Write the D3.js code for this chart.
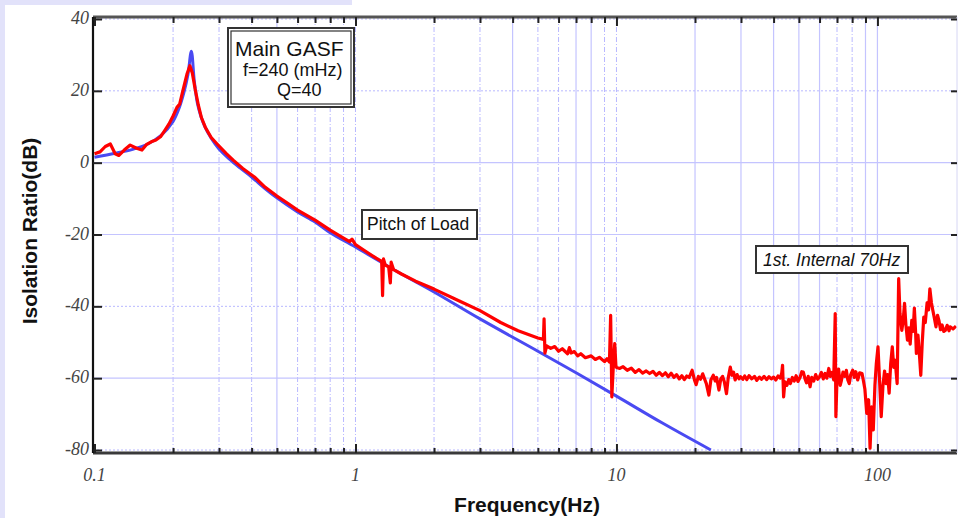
<!DOCTYPE html>
<html><head><meta charset="utf-8">
<script src="https://cdn.jsdelivr.net/npm/d3@7"></script>
<style>
html,body{margin:0;padding:0;background:#fff;}
svg{display:block;}
</style></head>
<body>
<svg id="chart" width="958" height="518"></svg>
<script>
// ---------- data ----------
const xTickValues = [0.1, 1, 10, 100];
const xTickLabels = ["0.1", "1", "10", "100"];
const yTickValues = [40, 20, 0, -20, -40, -60, -80];
const yTickLabels = ["40", "20", "0", "-20", "-40", "-60", "-80"];
const gridSolidX = [0.5, 4, 7, 8, 20, 30, 40, 50, 60, 90, 100];
const gridDashedX = [0.2, 0.3, 0.4, 0.6, 0.7, 0.8, 0.9, 1, 2, 3, 5, 6, 9, 10, 70, 80];
const gridSolidY = [0, -20, -60];
const gridDottedY = [40, 20, -40, -80];

// model (blue): frequency Hz, isolation dB
const modelFreq = [0.1, 0.12, 0.14, 0.16, 0.18, 0.2, 0.21, 0.22, 0.228, 0.235, 0.241, 0.248, 0.256, 0.265, 0.28, 0.3, 0.33, 0.36, 0.4, 0.45, 0.5, 0.6, 0.7, 0.8, 1.0, 1.5, 2, 3, 5, 7, 10, 15, 23];
const modelDb   = [1.5, 2.6, 3.7, 5.2, 7.6, 11.5, 14.8, 19.5, 24.5, 31, 23, 16.5, 12.8, 10, 6.8, 3.8, 0.9, -1.4, -4.0, -7.2, -9.8, -13.7, -16.5, -19.5, -23.5, -31, -36, -43.5, -52.5, -58.5, -65, -72.5, -80];

// measured (red)
const measFreq = [0.1, 0.105, 0.11, 0.115, 0.12, 0.124, 0.13, 0.137, 0.145, 0.152, 0.158, 0.165, 0.172, 0.179, 0.186, 0.193, 0.2, 0.207, 0.212, 0.218, 0.226, 0.232, 0.237, 0.243, 0.25, 0.257, 0.266, 0.28, 0.295, 0.32, 0.34, 0.37, 0.41, 0.45, 0.5, 0.55, 0.6, 0.7, 0.8, 0.9, 0.95, 0.97, 1.0, 1.1, 1.2, 1.26, 1.27, 1.28, 1.3, 1.34, 1.36, 1.37, 1.4, 1.5, 1.7, 2.0, 2.5, 3.0, 3.6, 4.2, 5.0, 5.25, 5.28, 5.32, 5.4, 5.6, 5.8, 6.0, 6.2, 6.5, 6.6, 6.7, 6.9, 7.1, 7.3, 7.6, 8.0, 8.3, 8.6, 9.0, 9.2, 9.4, 9.5, 9.6, 9.75, 9.85, 9.95, 10.0, 10.3, 10.6, 11, 11.4, 11.8, 12.2, 12.6, 13, 13.4, 13.8, 14.2, 14.6, 15, 15.4, 15.8, 16.2, 16.6, 17, 17.4, 17.8, 18.2, 18.6, 19, 19.5, 19.9, 20.2, 20.6, 21, 21.4, 21.7, 22.1, 22.6, 23, 23.5, 23.9, 24.2, 24.7, 25.1, 25.5, 25.9, 26.4, 26.8, 27.3, 27.7, 28.1, 28.5, 29, 29.5, 29.9, 30.5, 31, 31.6, 32.2, 33, 33.8, 34.5, 35.3, 36, 36.8, 37.6, 38.4, 39.2, 40, 40.8, 41.6, 42.4, 43, 43.3, 43.7, 44.2, 45, 45.7, 46.4, 47.2, 48, 48.8, 49.6, 50.5, 51.3, 52, 52.8, 53.5, 54.3, 55.2, 56, 57, 58, 59, 60, 61, 62, 63, 64, 65.1, 66, 67, 68, 68.9, 69.3, 70, 71, 72, 72.8, 73.8, 75, 76, 77, 78, 79, 80.4, 81.5, 82.6, 84, 85.5, 87.3, 88.5, 89.5, 91, 92.5, 93.7, 95, 96.4, 97.8, 99, 100.5, 101.8, 103.4, 105, 106.5, 107.9, 109.4, 110.9, 112.4, 114, 115.5, 117, 118, 119, 120.6, 122, 124, 125.5, 127, 128.5, 130.3, 132, 133.5, 135.4, 137, 138.5, 140, 141, 143, 145, 146.6, 148.5, 150.5, 152.5, 155, 157, 158.8, 161, 163, 165, 167.6, 170, 172, 174.5, 177, 179.5, 182, 185, 188, 190, 195, 200];
const measDb   = [2.5, 3, 4.5, 5.2, 2.5, 2.0, 3.5, 4.9, 4.0, 3.5, 5, 5.8, 6.3, 7.2, 9, 10.8, 13, 15.4, 16.3, 20, 24.6, 27, 25, 20.5, 16, 12.5, 9.8, 7, 5.2, 2.5, 0.7, -1.6, -4.0, -6.8, -9.3, -11.3, -13.2, -16, -18.8, -21, -22, -21.3, -22.8, -24.8, -26.6, -27.5, -37, -26.8, -28.5, -29, -33.5, -27.7, -29.8, -31, -33, -35.2, -38.5, -41.2, -44.5, -46.8, -48.8, -49.2, -43.5, -53, -51, -51.7, -51.2, -52.5, -51.8, -53.2, -51.5, -53, -52.6, -53.8, -53.2, -54.3, -53.8, -54.8, -54.2, -55.4, -54.6, -55.5, -42.5, -65.2, -55, -50.4, -56.5, -57, -57.3, -56.8, -57.8, -57.2, -58.4, -57.6, -58.6, -58, -58.7, -58.1, -59.2, -58.4, -59.3, -58.5, -59.6, -58.6, -59.8, -59, -60.2, -59.3, -60.4, -59.4, -59.8, -57.8, -60.5, -61.8, -59.5, -60.3, -58.8, -60, -61.5, -64.7, -60.5, -59.2, -60.8, -59.8, -63.3, -60.2, -59.5, -61, -64.3, -60, -56.9, -59.2, -58.3, -60.5, -59, -60.2, -59.6, -60.3, -59.4, -60.4, -59.3, -60.2, -59.5, -60.6, -59.7, -60.3, -59.5, -60.4, -59.6, -60.2, -59.7, -60.5, -59.4, -60, -58.5, -56.4, -65.2, -61, -62, -60.4, -61.5, -59.8, -60.8, -59.3, -60.9, -59.8, -58.2, -58.3, -60.2, -61.3, -59.5, -62.4, -59.8, -60.8, -59, -60.3, -59.6, -58.4, -60.2, -58.7, -60, -57.3, -59.5, -58.4, -60.5, -42, -70.7, -60, -57.5, -62, -60.6, -58.3, -59.5, -57.8, -60.5, -61.5, -59, -57.8, -59.8, -58.2, -60.5, -58.5, -58.7, -61, -63, -69.8, -66, -79.5, -68, -74.4, -62, -56, -51.3, -60, -70.7, -62, -58, -61.5, -59, -64.2, -56, -51.3, -57, -55, -58.5, -61.5, -32.3, -42, -46.7, -44, -39.2, -45, -49.4, -46, -50.5, -43.9, -47, -40.5, -47, -53.1, -48, -54, -59.2, -50, -43, -44.5, -39, -41, -35.1, -39, -41.1, -43, -45.7, -42.5, -43.9, -46.5, -45.2, -47, -46.7, -45.3, -46.8, -45.7, -46.3, -45.5];

// ---------- drawing ----------
const svg = d3.select("#chart");
const W = 958, H = 518;
const pLeft = 93, pRight = 957, pTop = 17, pBottom = 453;

// background
svg.append("rect").attr("x",0).attr("y",0).attr("width",W).attr("height",H).attr("fill","#fff");
svg.append("rect").attr("x",0).attr("y",0).attr("width",5).attr("height",H).attr("fill","#e2e2fa");
svg.append("rect").attr("x",0).attr("y",0).attr("width",352).attr("height",5).attr("fill","#e2e2fa");

const x = d3.scaleLog().domain([0.1, 200]).range([94.5, 956]);
const y = d3.scaleLinear().domain([-80, 40]).range([450, 19]);

// grid
const grid = svg.append("g");
grid.append("g").selectAll("line").data(gridSolidX).join("line")
  .attr("x1", d => x(d)).attr("x2", d => x(d)).attr("y1", pTop).attr("y2", pBottom)
  .attr("stroke", "#c4c4ff").attr("stroke-width", 1.2);
grid.append("g").selectAll("line").data(gridDashedX).join("line")
  .attr("x1", d => x(d)).attr("x2", d => x(d)).attr("y1", pTop).attr("y2", pBottom)
  .attr("stroke", "#b8b8ff").attr("stroke-width", 1).attr("stroke-dasharray", "5,2,1,2");
grid.append("g").selectAll("line").data(gridSolidY).join("line")
  .attr("x1", pLeft).attr("x2", pRight).attr("y1", d => y(d)).attr("y2", d => y(d))
  .attr("stroke", "#c4c4ff").attr("stroke-width", 1.2);
grid.append("g").selectAll("line").data(gridDottedY).join("line")
  .attr("x1", pLeft).attr("x2", pRight).attr("y1", d => y(d)).attr("y2", d => y(d))
  .attr("stroke", "#b8b8ff").attr("stroke-width", 1).attr("stroke-dasharray", "2,2");

// data lines
svg.append("defs").append("clipPath").attr("id","clip")
  .append("rect").attr("x",pLeft).attr("y",pTop).attr("width",pRight-pLeft).attr("height",pBottom-pTop);

const modelPts = modelFreq.map((f,i) => [f, modelDb[i]]);
const measPts = measFreq.map((f,i) => [f, measDb[i]]);

svg.append("path")
  .attr("clip-path","url(#clip)")
  .attr("d", d3.line().x(d => x(d[0])).y(d => y(d[1])).curve(d3.curveCatmullRom.alpha(0.5))(modelPts))
  .attr("fill","none").attr("stroke","#4a4af2").attr("stroke-width",3);
svg.append("path")
  .attr("clip-path","url(#clip)")
  .attr("d", d3.line().x(d => x(d[0])).y(d => y(d[1]))(measPts))
  .attr("fill","none").attr("stroke","#ff0000").attr("stroke-width",3.2)
  .attr("stroke-linejoin","round");

// axes frame
svg.append("line").attr("x1",pLeft).attr("x2",pRight).attr("y1",pBottom).attr("y2",pBottom)
  .attr("stroke","#3a3a3a").attr("stroke-width",3);
svg.append("line").attr("x1",pLeft).attr("x2",pRight).attr("y1",pTop).attr("y2",pTop)
  .attr("stroke","#555").attr("stroke-width",3);
svg.append("line").attr("x1",pLeft).attr("x2",pLeft).attr("y1",pTop).attr("y2",pBottom)
  .attr("stroke","#111").attr("stroke-width",2.2);
svg.append("line").attr("x1",pRight).attr("x2",pRight).attr("y1",pTop).attr("y2",pBottom)
  .attr("stroke","#d6d6f4").attr("stroke-width",1);

// x ticks (bottom pointing up, top pointing down)
const minorX = [];
[0.1, 1, 10].forEach(dec => { for (let k = 2; k <= 9; k++) minorX.push(+(dec*k).toPrecision(3)); });
const tickSets = [
  [d3.axisBottom(x).tickValues(xTickValues).tickSize(-9).tickFormat(""), pBottom],
  [d3.axisBottom(x).tickValues(minorX).tickSize(-5).tickFormat(""), pBottom],
  [d3.axisTop(x).tickValues(xTickValues).tickSize(-9).tickFormat(""), pTop],
  [d3.axisTop(x).tickValues(minorX).tickSize(-6).tickFormat(""), pTop]
];
tickSets.forEach(([ax, yy]) => {
  const g = svg.append("g").attr("transform",`translate(0,${yy})`).call(ax);
  g.select(".domain").remove();
  g.selectAll("line").attr("stroke","#222").attr("stroke-width",2);
});

// x labels
svg.append("g").selectAll("text").data(xTickValues).join("text")
  .attr("x", d => x(d)).attr("y", 481)
  .attr("text-anchor","middle")
  .attr("font-family","'Liberation Serif', 'DejaVu Serif', serif")
  .attr("font-style","italic").attr("font-size",18).attr("fill","#444")
  .text((d,i) => xTickLabels[i]);

// y ticks left (pointing right) and right (pointing left)
const yl = svg.append("g").attr("transform",`translate(${pLeft},0)`)
  .call(d3.axisLeft(y).tickValues(yTickValues).tickSize(-9).tickFormat(""));
yl.select(".domain").remove();
yl.selectAll("line").attr("stroke","#222").attr("stroke-width",2);
const yr = svg.append("g").attr("transform",`translate(${pRight},0)`)
  .call(d3.axisRight(y).tickValues(yTickValues).tickSize(-6).tickFormat(""));
yr.select(".domain").remove();
yr.selectAll("line").attr("stroke","#222").attr("stroke-width",2);

svg.append("g").selectAll("text").data(yTickValues).join("text")
  .attr("x", 89).attr("y", d => y(d) + 5)
  .attr("text-anchor","end")
  .attr("font-family","'Liberation Serif', 'DejaVu Serif', serif")
  .attr("font-style","italic").attr("font-size",18).attr("fill","#444")
  .text((d,i) => yTickLabels[i]);

// axis titles
const sans = "'Liberation Sans', Arial, sans-serif";
svg.append("text").attr("x",527).attr("y",512).attr("text-anchor","middle")
  .attr("font-family",sans).attr("font-weight","bold")
  .attr("font-size",21).attr("fill","#111").text("Frequency(Hz)");
svg.append("text").attr("transform","translate(37,231) rotate(-90)").attr("text-anchor","middle")
  .attr("font-family",sans).attr("font-weight","bold")
  .attr("font-size",21).attr("fill","#111").text("Isolation Ratio(dB)");

// annotation boxes
function box(x0, y0, w, h, dbl) {
  svg.append("rect").attr("x",x0).attr("y",y0).attr("width",w).attr("height",h)
    .attr("fill","#fff").attr("stroke","#333").attr("stroke-width",2);
  if (dbl) svg.append("rect").attr("x",x0+3).attr("y",y0+3).attr("width",w-6).attr("height",h-6)
    .attr("fill","none").attr("stroke","#333").attr("stroke-width",1.2);
}
box(228, 28, 126, 79, true);
svg.append("text").attr("x",235).attr("y",56).attr("font-family",sans).attr("font-size",21).attr("fill","#111").text("Main GASF");
svg.append("text").attr("x",243).attr("y",76).attr("font-family",sans).attr("font-size",18).attr("fill","#111").text("f=240 (mHz)");
svg.append("text").attr("x",277).attr("y",96).attr("font-family",sans).attr("font-size",18).attr("fill","#111").text("Q=40");

box(362, 210, 115, 29, false);
svg.append("text").attr("x",367).attr("y",230).attr("font-family",sans).attr("font-size",17.5).attr("fill","#111").text("Pitch of Load");

box(756, 246, 152, 27, false);
svg.append("text").attr("x",763).attr("y",266).attr("font-family",sans).attr("font-style","italic").attr("font-size",17.5).attr("fill","#111").text("1st. Internal 70Hz");
</script>
</body></html>
